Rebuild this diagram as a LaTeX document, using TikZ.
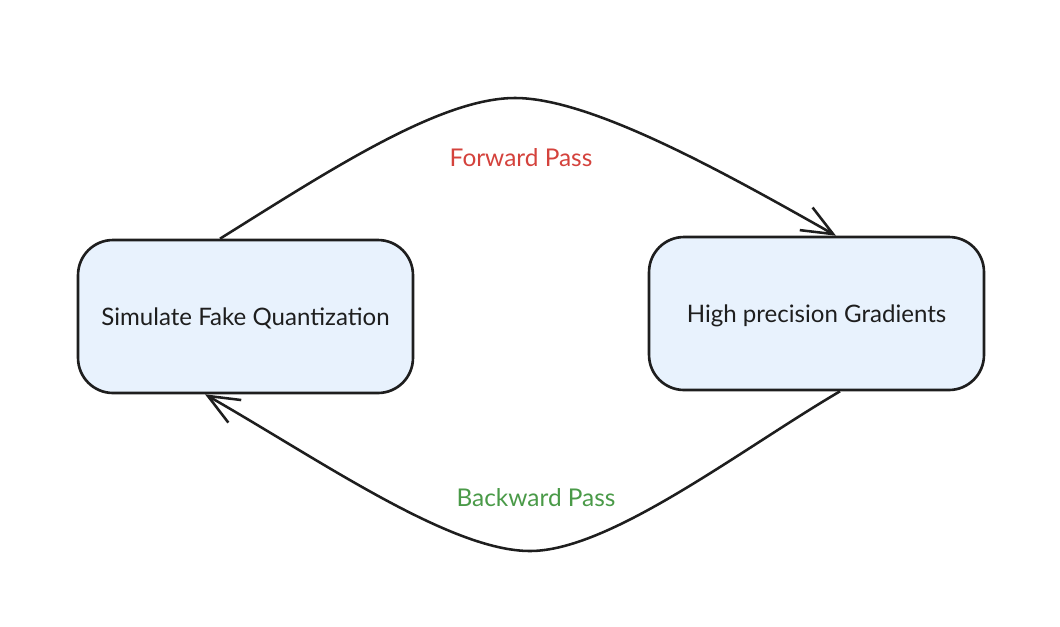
\documentclass[tikz,border=0pt]{standalone}
\usepackage{fontspec}
\setmainfont{Lato}
\usetikzlibrary{arrows.meta,calc}
\definecolor{boxfill}{HTML}{E8F2FD}
\definecolor{boxdraw}{HTML}{1E1E1E}
\definecolor{fwd}{HTML}{D4423C}
\definecolor{bwd}{HTML}{4A9A48}
\tikzset{
  stepbox/.style={draw=boxdraw, fill=boxfill, line width=1.5pt, rounded corners=0.7cm,
    minimum width=6.7cm, minimum height=3.06cm, inner sep=0pt, font=\fontsize{13.7}{16}\selectfont, text=boxdraw,
    text depth=0pt},
  flow/.style={draw=boxdraw, line width=1.45pt, -{Straight Barb[length=0.62cm,width=0.52cm,line width=1.45pt]}},
  lbl/.style={font=\fontsize{13.9}{16}\selectfont, inner sep=0pt}
}
\begin{document}
\begin{tikzpicture}[x=0.02cm, y=-0.02cm]
\useasboundingbox (0,0) rectangle (1060,626);
\node[stepbox, text height=10.8pt] (sim) at (245.5,316.5) {Simulate Fake Quantization};
\node[stepbox, text height=9.8pt] (hpg) at (816.5,313.5) {High precision Gradients};
\coordinate (fstart) at ([xshift=-0.51cm]sim.north);
\coordinate (fend) at ([xshift=0.39cm]hpg.north);
\coordinate (bstart) at ([xshift=0.47cm]hpg.south);
\coordinate (bend) at ([xshift=-0.81cm]sim.south);
\draw[flow] (fstart) .. controls (330,170) and (440,98) .. (515,98)
  .. controls (590,98) and (720,170) .. (fend);
\draw[flow] (bstart) .. controls (740,450) and (610,551) .. (530,551)
  .. controls (450,551) and (320,460) .. (bend);
\node[lbl, text=fwd] (fl) at (521,158) {Forward Pass};
\node[lbl, text=bwd] (bl) at (536,498) {Backward Pass};
\end{tikzpicture}
\end{document}
